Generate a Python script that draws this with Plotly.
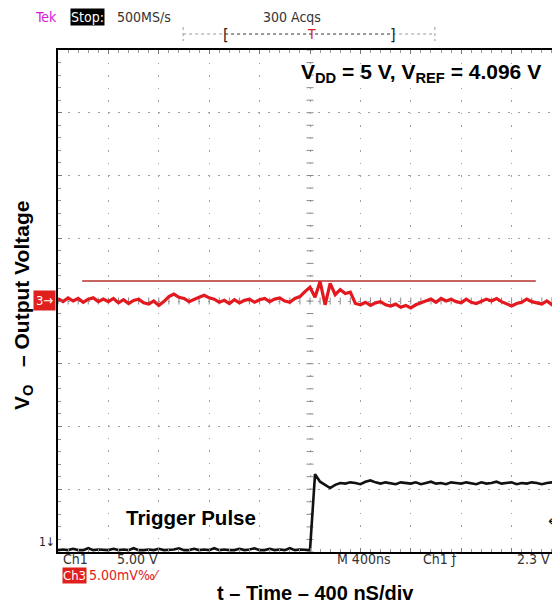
import numpy as np
import plotly.graph_objects as go

# ---------------- data ----------------
# time axis in ns relative to trigger (400 ns/div), 40 ns steps
t_ns = [-2000 + 40 * i for i in range(100)]

# Ch3 output voltage (divisions, 5 mV/div)
ch3_div = [
    0.04, -0.01, 0.05, 0.00, 0.04, -0.02, 0.03, 0.05, -0.01, 0.03,
    -0.01, 0.04, -0.03, 0.02, -0.04, 0.01, 0.03, -0.03, -0.05, 0.00,
    -0.07, -0.01, 0.07, 0.11, 0.06, 0.04, -0.01, 0.03, 0.06, 0.09,
    0.05, 0.03, -0.02, 0.01, -0.04, 0.02, -0.03, 0.01, 0.03, -0.02,
    0.02, 0.04, -0.01, 0.03, 0.05, 0.00, -0.02, 0.04, 0.07, 0.15,
    0.22, 0.06, 0.31, -0.06, 0.28, 0.10, 0.18, 0.12, 0.14, -0.04,
    -0.06, -0.02, -0.07, -0.03, -0.01, -0.06, -0.08, -0.05, -0.10, -0.07,
    -0.11, -0.06, -0.03, 0.01, 0.03, -0.02, 0.04, 0.00, 0.03, -0.01,
    -0.03, 0.03, -0.02, -0.04, 0.00, 0.03, 0.00, 0.04, -0.01, -0.04,
    -0.08, -0.04, -0.02, 0.03, -0.01, -0.03, -0.05, 0.00, -0.06, -0.03,
]

# Ch1 trigger pulse (divisions, 5 V/div)
ch1_div = [
    -3.97, -3.96, -3.97, -3.95, -3.97, -3.97, -3.94, -3.97, -3.96, -3.97,
    -3.97, -3.95, -3.97, -3.96, -3.97, -3.94, -3.97, -3.97, -3.96, -3.97,
    -3.95, -3.97, -3.97, -3.96, -3.94, -3.97, -3.97, -3.95, -3.97, -3.96,
    -3.97, -3.94, -3.97, -3.96, -3.97, -3.97, -3.95, -3.97, -3.96, -3.94,
    -3.97, -3.97, -3.95, -3.97, -3.96, -3.97, -3.94, -3.97, -3.96, -3.97,
    -3.97, -2.76, -2.88, -2.93, -2.98, -2.93, -2.90, -2.91, -2.89, -2.90,
    -2.92, -2.88, -2.86, -2.89, -2.91, -2.89, -2.90, -2.92, -2.89, -2.90,
    -2.91, -2.89, -2.92, -2.90, -2.88, -2.91, -2.90, -2.92, -2.89, -2.90,
    -2.91, -2.89, -2.90, -2.92, -2.89, -2.91, -2.90, -2.88, -2.91, -2.90,
    -2.89, -2.92, -2.90, -2.91, -2.89, -2.90, -2.92, -2.90, -2.89, -2.91,
]

# reference cursor line on ch3
ref_t = [-1808, 1792]
ref_div = [0.32, 0.32]

x_range = [-2000, 2000]
y_range = [-4, 4]

# ---------------- layout helpers (screen pixels; page has 8px body offset) ----------------
OFF = 8
L, R, T, B = 58, 562, 50, 552
PW, PH = R - L, B - T


def px(xp):
    return (xp - L) / PW


def py(yp):
    return (B - yp) / PH


BOLD = "Liberation Sans, Arial, sans-serif"
SCOPE = "DejaVu Sans Condensed, DejaVu Sans, sans-serif"

fig = go.Figure()

# center graticule ticks
ct = np.round(np.arange(-4, 4.001, 0.2), 2)
fig.add_trace(go.Scatter(x=[0] * len(ct), y=ct, mode="markers",
                         marker=dict(symbol="line-ew", size=5, line=dict(width=1, color="#8a8a8a")),
                         hoverinfo="skip", showlegend=False))
ctx = np.arange(-2000, 2001, 80)
fig.add_trace(go.Scatter(x=ctx, y=[0] * len(ctx), mode="markers",
                         marker=dict(symbol="line-ns", size=5, line=dict(width=1, color="#8a8a8a")),
                         hoverinfo="skip", showlegend=False))

# reference line
fig.add_trace(go.Scatter(x=ref_t, y=ref_div, mode="lines",
                         line=dict(color="#b5302e", width=1.5), hoverinfo="skip", showlegend=False))
# ch1
fig.add_trace(go.Scatter(x=t_ns, y=ch1_div, mode="lines",
                         line=dict(color="#111111", width=2.6), hoverinfo="skip", showlegend=False))
# ch3
fig.add_trace(go.Scatter(x=t_ns, y=ch3_div, mode="lines",
                         line=dict(color="#e3191f", width=3.2), hoverinfo="skip", showlegend=False))

fig.update_xaxes(range=x_range, showgrid=True, gridcolor="#a0a0a0", griddash="1.5px,11px",
                 gridwidth=1, dtick=400, tick0=0, zeroline=False,
                 showline=True, linecolor="black", linewidth=2, mirror="ticks",
                 ticks="inside", ticklen=4, tickcolor="#777", showticklabels=False,
                 minor=dict(dtick=80, ticks="inside", ticklen=3, tickcolor="#999", showgrid=False))
fig.update_yaxes(range=y_range, showgrid=True, gridcolor="#a0a0a0", griddash="2px,8px",
                 gridwidth=1, dtick=1, tick0=0, zeroline=False,
                 showline=True, linecolor="black", linewidth=2, mirror=False,
                 ticks="inside", ticklen=4, tickcolor="#777", showticklabels=False,
                 minor=dict(dtick=0.2, ticks="inside", ticklen=3, tickcolor="#999", showgrid=False))

ann = []


def text(x, y, s, size=13, color="#222", family=SCOPE, xanchor="left", bg=None, angle=0,
         yanchor="middle", pad=0):
    d = dict(x=x, y=y, xref="paper", yref="paper", text=s, showarrow=False,
             font=dict(size=size, color=color, family=family), xanchor=xanchor, yanchor=yanchor,
             textangle=angle, borderpad=pad)
    if bg:
        d["bgcolor"] = bg
    ann.append(d)


# header
text(px(34), py(17), "Tek", 14, "#d21ad6")
text(px(70), py(17), "Stop:", 14, "white", bg="black")
text(px(116), py(17), "500MS/s", 14, "#333")
text(px(262), py(17), "300 Acqs", 14, "#333")
# record bar
text(px(226), py(34), "[", 16, "#222", xanchor="center")
text(px(393), py(34), "]", 16, "#222", xanchor="center")
text(px(311), py(34), "T", 14, "#d42020", xanchor="center")

# footer scope readouts
text(px(62), py(559), "Ch1", 14, "#333")
text(px(116), py(559), "5.00 V", 14, "#333")
text(px(336), py(559), "M 400ns", 14, "#333")
text(px(422), py(559), "Ch1 \u0192", 14, "#333")
text(px(516), py(559), "2.3 V", 14, "#333")
text(px(62), py(575), "Ch3", 13, "white", bg="#e0201c")
text(px(88), py(575), "5.00mV\u2030\u2044", 14, "#e0201c")

# channel markers
text(px(56), py(300), "3\u2192", 13, "white", xanchor="right", bg="#e0201c", pad=2)
text(px(56), py(542), "1\u2193", 12, "#222", xanchor="right")
text(px(560), py(521), "\u2190", 15, "#111", xanchor="right")

# chart annotations
text(px(300), py(73), "<b>V<sub>DD</sub> = 5 V, V<sub>REF</sub> = 4.096 V</b>", 21, "black", BOLD)
text(px(191), py(517), "<b>Trigger Pulse</b>", 20.5, "black", BOLD, xanchor="center")
text(px(315), py(593), "<b>t \u2013 Time \u2013 400 nS/div</b>", 20, "black", BOLD, xanchor="center")
text(px(23), py(306), "<b>V<sub>O</sub>   \u2013 Output Voltage</b>", 21, "black", BOLD,
     xanchor="center", angle=-90)

fig.update_layout(annotations=ann)

# record length bar shapes
shapes = [
    dict(type="line", xref="x", yref="paper", x0=-1007, x1=991, y0=py(34), y1=py(34),
         line=dict(color="#9a9a9a", width=1, dash="dot")),
    dict(type="line", xref="x", yref="paper", x0=-674, x1=650, y0=py(34), y1=py(34),
         line=dict(color="#666", width=1, dash="dot")),
    dict(type="line", xref="x", yref="paper", x0=-1007, x1=-1007, y0=py(27), y1=py(41),
         line=dict(color="#9a9a9a", width=1, dash="dot")),
    dict(type="line", xref="x", yref="paper", x0=991, x1=991, y0=py(27), y1=py(41),
         line=dict(color="#9a9a9a", width=1, dash="dot")),
]
fig.update_layout(shapes=shapes)

fig.update_layout(width=560, height=616,
                  margin=dict(l=L - OFF, r=560 + OFF - R, t=T - OFF, b=616 + OFF - B),
                  paper_bgcolor="white", plot_bgcolor="white", showlegend=False)

fig.write_html("out.html")
